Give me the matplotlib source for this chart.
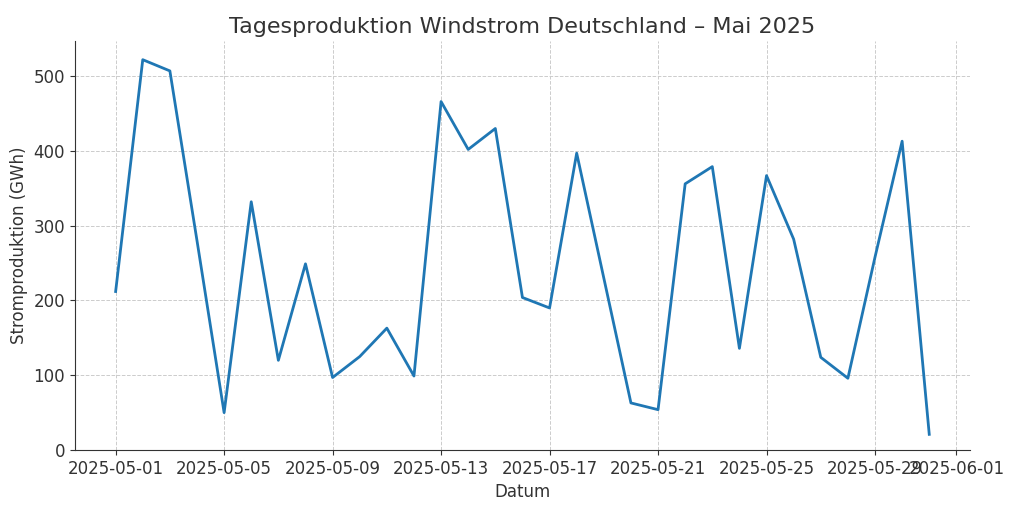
import matplotlib
matplotlib.use("Agg")
import matplotlib.pyplot as plt
import matplotlib.dates as mdates
import pandas as pd

dates = pd.date_range("2025-05-01", "2025-05-31", freq="D")
production_gwh = [212, 522, 507, 280, 50, 332, 120, 249, 97, 125,
                  163, 99, 466, 402, 430, 204, 190, 397, 230, 63,
                  54, 356, 379, 136, 367, 282, 124, 96, 258, 413, 21]

title = "Tagesproduktion Windstrom Deutschland – Mai 2025"
xlabel = "Datum"
ylabel = "Stromproduktion (GWh)"

plt.rcParams['font.family'] = ['DejaVu Sans']
text_color = "#333333"

fig = plt.figure(figsize=(10.24, 5.12), dpi=100)
ax = fig.add_axes([0.0732, 0.121, 0.874, 0.799])

ax.plot(dates, production_gwh, color="#1f77b4", linewidth=2)
ax.set_ylim(bottom=0)

ax.set_title(title, fontsize=16, color=text_color)
ax.set_xlabel(xlabel, fontsize=12, color=text_color)
ax.set_ylabel(ylabel, fontsize=12, color=text_color)

ax.xaxis.set_major_locator(mdates.AutoDateLocator())
ax.xaxis.set_major_formatter(mdates.DateFormatter("%Y-%m-%d"))
ax.tick_params(labelsize=12, colors=text_color)

ax.grid(True, linestyle="--", linewidth=0.7, color="#cccccc")
ax.spines["top"].set_visible(False)
ax.spines["right"].set_visible(False)
for s in ("left", "bottom"):
    ax.spines[s].set_color("#333333")

fig.savefig("out.png", dpi=100)
